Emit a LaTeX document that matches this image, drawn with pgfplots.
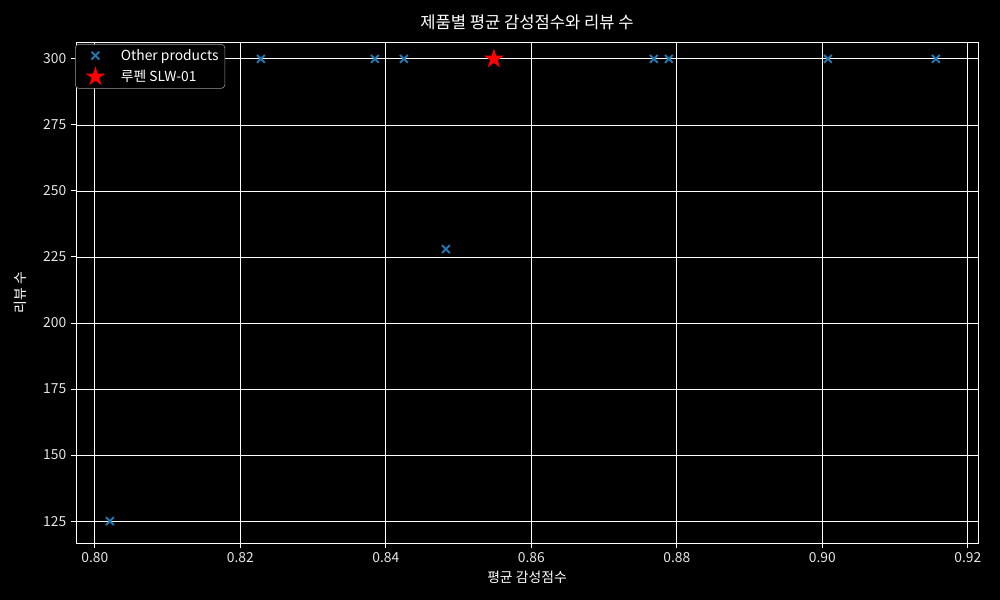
\documentclass[border=0pt]{standalone}
\usepackage{pgfplots}
\pgfplotsset{compat=1.18}
\usepackage{fontspec}
\setmainfont{Noto Sans CJK KR}
\definecolor{mplblue}{HTML}{1F77B4}
\pgfdeclareplotmark{fstar}{%
  \pgfpathmoveto{\pgfqpointpolar{90}{\pgfplotmarksize}}%
  \pgfpathlineto{\pgfqpointpolar{126}{0.382\pgfplotmarksize}}%
  \pgfpathlineto{\pgfqpointpolar{162}{\pgfplotmarksize}}%
  \pgfpathlineto{\pgfqpointpolar{198}{0.382\pgfplotmarksize}}%
  \pgfpathlineto{\pgfqpointpolar{234}{\pgfplotmarksize}}%
  \pgfpathlineto{\pgfqpointpolar{270}{0.382\pgfplotmarksize}}%
  \pgfpathlineto{\pgfqpointpolar{306}{\pgfplotmarksize}}%
  \pgfpathlineto{\pgfqpointpolar{342}{0.382\pgfplotmarksize}}%
  \pgfpathlineto{\pgfqpointpolar{18}{\pgfplotmarksize}}%
  \pgfpathlineto{\pgfqpointpolar{54}{0.382\pgfplotmarksize}}%
  \pgfpathclose
  \pgfusepathqfill}
\begin{document}
\begin{tikzpicture}[x=1in,y=1in]
\fill[black] (0,0) rectangle (10,6);
\begin{axis}[
  at={(0.76in,0.57in)}, anchor=south west,
  scale only axis, width=9.02in, height=5.01in,
  xmin=0.7974, xmax=0.9214, ymin=116.7, ymax=306.4,
  xtick={0.80,0.82,0.84,0.86,0.88,0.90,0.92},
  ytick={125,150,175,200,225,250,275,300},
  xticklabel style={/pgf/number format/fixed,/pgf/number format/fixed zerofill,/pgf/number format/precision=2},
  /pgf/number format/assume math mode=true,
  scaled x ticks=false,
  tick label style={font=\fontsize{10}{12}\selectfont, text=white!90!black},
  axis line style={white, line width=0.7pt},
  tick style={white, line width=0.7pt},
  tick align=outside, major tick length=3.5pt,
  xtick pos=bottom, ytick pos=left,
  grid=major, major grid style={white, line width=0.6pt},
  title={제품별 평균 감성점수와 리뷰 수},
  title style={font=\fontsize{12}{14}\selectfont, text=white, yshift=-1pt},
  xlabel={평균 감성점수}, ylabel={리뷰 수},
  label style={font=\fontsize{10}{12}\selectfont, text=white},
  xlabel style={yshift=1pt},
  ylabel style={yshift=5pt},
  legend style={at={(-0.001,0.996)}, anchor=north west, fill=black, draw=gray!80, rounded corners=2.5pt, text=white, font=\fontsize{10}{12}\selectfont, row sep=1.5pt, inner xsep=3pt, inner ysep=2pt,
    nodes={inner sep=1.5pt}},
  legend image code/.code={\path (0,0) (0.95cm,0); \draw[#1] plot coordinates {(0.38cm,0cm)};},
  legend cell align=left,
]
\addplot[only marks, mark=x, mark size=4pt, mplblue, line width=1.4pt] coordinates {
(0.80206,125) (0.82282,300) (0.83849,300) (0.84247,300) (0.84825,228)
(0.87684,300) (0.8789,300) (0.90076,300) (0.9156,300)
};
\addlegendentry{Other products}
\addplot[only marks, mark=fstar, mark size=7.5pt, red, fill=red] coordinates {(0.85485,300)};
\addlegendentry{루펜 SLW-01}
\end{axis}
\end{tikzpicture}
\end{document}
